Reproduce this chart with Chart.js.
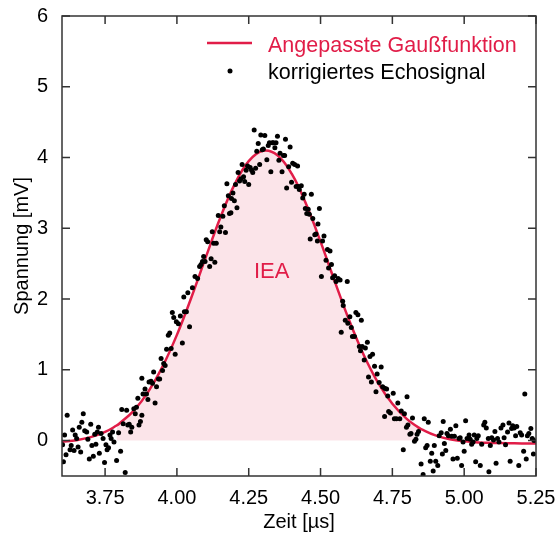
<!DOCTYPE html>
<html lang="de">
<head>
<meta charset="utf-8">
<title>Echosignal</title>
<script src="https://cdn.jsdelivr.net/npm/chart.js@4.4.1/dist/chart.umd.min.js"></script>
<style>
  html, body { margin: 0; padding: 0; background: #fff; }
  #wrap { width: 558px; height: 534px; }
</style>
</head>
<body>
<div id="wrap"><canvas id="echoChart" width="558" height="534"></canvas></div>
<script>
// ── Data ────────────────────────────────────────────────────────────
const xTicks = [3.75, 4.00, 4.25, 4.50, 4.75, 5.00, 5.25];
const yTicks = [0, 1, 2, 3, 4, 5, 6];

// fitted Gaussian, sampled every 0.05 µs (plus the edges of the shaded area)
const fitTime = [3.60, 3.65, 3.70, 3.75, 3.79, 3.80, 3.85, 3.90, 3.95, 4.00, 4.05, 4.10,
  4.15, 4.20, 4.25, 4.30, 4.35, 4.40, 4.45, 4.50, 4.55, 4.60, 4.65, 4.70, 4.75, 4.80,
  4.84, 4.85, 4.90, 4.95, 5.00, 5.05, 5.10, 5.15, 5.20, 5.25];
const fitVoltage = [-0.017, 0.006, 0.049, 0.122, 0.213, 0.242, 0.425, 0.689, 1.046, 1.494, 2.019, 2.585,
  3.138, 3.614, 3.949, 4.096, 4.032, 3.768, 3.341, 2.811, 2.244, 1.696, 1.214, 0.820, 0.520, 0.307,
  0.187, 0.164, 0.074, 0.020, -0.010, -0.026, -0.033, -0.037, -0.039, -0.040];

// integration window shaded under the fit
const areaStart = 3.79;
const areaEnd   = 4.84;
const areaLabel = 'IEA';
const areaLabelPos = [4.33, 2.38];

// corrected echo signal [time µs, voltage mV]
const echoSignal = [
  [3.602,-0.06],[3.605,-0.30],[3.609,0.08],[3.614,-0.20],[3.618,0.36],[3.628,-0.13],[3.632,-0.07],
  [3.637,0.15],[3.642,-0.14],[3.646,0.08],[3.651,0.03],[3.656,-0.09],[3.660,0.19],[3.665,-0.16],
  [3.669,0.26],[3.674,0.38],[3.679,0.14],[3.686,0.12],[3.690,0.02],[3.695,-0.26],[3.700,0.23],
  [3.704,-0.07],[3.709,-0.22],[3.714,0.09],[3.718,-0.05],[3.723,0.12],[3.727,0.19],[3.730,-0.18],
  [3.736,0.10],[3.743,0.03],[3.748,-0.31],[3.753,-0.06],[3.757,-0.13],[3.762,-0.10],[3.767,0.08],
  [3.771,0.03],[3.776,0.12],[3.781,-0.02],[3.790,-0.28],[3.797,0.11],[3.804,-0.15],[3.808,0.44],
  [3.813,0.24],[3.820,-0.45],[3.825,0.43],[3.829,0.22],[3.834,0.23],[3.839,0.12],[3.843,0.19],
  [3.850,0.45],[3.855,0.38],[3.859,0.47],[3.864,0.60],[3.868,0.22],[3.873,0.27],[3.878,0.36],
  [3.878,0.88],[3.882,0.66],[3.889,0.73],[3.894,0.66],[3.899,0.58],[3.903,0.83],[3.910,0.84],
  [3.915,0.81],[3.919,0.97],[3.924,0.53],[3.929,0.76],[3.936,0.87],[3.940,0.87],[3.945,1.16],
  [3.950,0.99],[3.954,1.09],[3.959,1.06],[3.964,1.29],[3.970,1.49],[3.975,1.52],[3.980,1.30],
  [3.984,1.81],[3.989,1.74],[3.994,1.22],[3.998,1.68],[4.005,1.65],[4.012,1.76],[4.019,1.38],
  [4.024,2.03],[4.026,1.82],[4.033,1.82],[4.038,2.09],[4.044,1.61],[4.054,2.16],[4.063,2.32],
  [4.072,2.29],[4.079,2.46],[4.084,2.49],[4.089,2.53],[4.093,2.60],[4.098,2.53],[4.102,2.84],
  [4.107,2.81],[4.114,2.46],[4.119,2.57],[4.123,2.95],[4.128,2.79],[4.132,2.52],[4.137,2.79],
  [4.144,3.18],[4.149,2.95],[4.153,3.02],[4.160,3.17],[4.165,3.32],[4.169,2.94],[4.174,3.63],
  [4.179,3.46],[4.183,3.21],[4.188,3.22],[4.190,3.42],[4.195,3.50],[4.200,3.39],[4.204,3.62],
  [4.209,3.29],[4.213,3.79],[4.218,3.67],[4.223,3.70],[4.227,3.90],[4.232,3.73],[4.236,3.66],
  [4.241,3.82],[4.246,3.88],[4.250,3.62],[4.255,3.86],[4.260,3.82],[4.264,3.79],[4.269,4.39],
  [4.274,3.85],[4.278,4.09],[4.283,4.20],[4.288,3.90],[4.292,4.32],[4.297,4.11],[4.301,4.12],
  [4.306,4.31],[4.313,3.97],[4.318,4.17],[4.322,4.21],[4.327,3.80],[4.332,4.21],[4.336,4.21],
  [4.341,4.14],[4.345,4.21],[4.350,4.30],[4.355,3.96],[4.359,4.06],[4.366,3.80],[4.371,4.03],
  [4.375,4.03],[4.378,4.26],[4.382,3.57],[4.389,3.87],[4.394,4.15],[4.399,3.65],[4.403,3.92],
  [4.410,3.90],[4.415,3.59],[4.420,3.88],[4.422,3.59],[4.426,3.55],[4.433,3.60],[4.438,3.43],
  [4.443,3.48],[4.447,3.28],[4.452,3.21],[4.457,3.27],[4.461,3.20],[4.464,2.85],[4.468,3.48],
  [4.473,3.14],[4.480,2.91],[4.484,2.92],[4.489,2.82],[4.491,3.06],[4.496,3.28],[4.503,2.32],
  [4.507,2.82],[4.512,2.89],[4.519,2.55],[4.524,2.70],[4.528,2.44],[4.533,2.68],[4.538,2.49],
  [4.542,2.30],[4.549,2.33],[4.554,2.25],[4.561,2.29],[4.568,2.27],[4.572,1.53],[4.577,1.97],
  [4.579,1.91],[4.586,1.70],[4.593,2.25],[4.595,1.66],[4.602,1.75],[4.607,1.60],[4.611,1.47],
  [4.618,1.47],[4.623,1.81],[4.630,1.78],[4.635,1.33],[4.639,1.27],[4.642,1.70],[4.645,1.33],
  [4.652,1.14],[4.656,1.31],[4.663,1.39],[4.667,0.90],[4.672,1.19],[4.677,0.83],[4.681,1.22],
  [4.688,1.05],[4.693,0.69],[4.697,0.94],[4.704,0.82],[4.711,1.04],[4.716,0.76],[4.723,0.74],
  [4.723,0.34],[4.730,0.73],[4.734,0.63],[4.737,0.41],[4.743,0.39],[4.753,0.67],[4.757,0.31],
  [4.764,0.31],[4.769,0.53],[4.776,0.31],[4.781,0.42],[4.788,-0.13],[4.792,0.38],[4.799,0.19],
  [4.801,0.62],[4.804,0.22],[4.811,0.09],[4.815,0.10],[4.820,0.32],[4.827,-0.01],[4.832,0.02],
  [4.836,0.09],[4.841,0.13],[4.850,-0.33],[4.857,-0.48],[4.861,0.31],[4.866,-0.10],[4.871,-0.07],
  [4.875,0.26],[4.882,-0.29],[4.887,-0.18],[4.892,-0.43],[4.896,-0.07],[4.901,-0.29],[4.908,-0.35],
  [4.913,0.07],[4.920,0.11],[4.924,-0.19],[4.927,0.27],[4.931,-0.04],[4.936,-0.14],[4.940,0.10],
  [4.945,0.07],[4.952,0.16],[4.957,0.06],[4.961,-0.26],[4.966,0.06],[4.971,0.21],[4.976,-0.25],
  [4.982,0.03],[4.986,0.04],[4.991,-0.35],[4.996,-0.02],[5.000,-0.15],[5.005,0.28],[5.010,0.03],
  [5.017,0.08],[5.021,0.02],[5.026,-0.05],[5.031,-0.02],[5.035,0.08],[5.040,-0.30],[5.044,0.03],
  [5.049,0.07],[5.056,-0.35],[5.061,-0.05],[5.068,0.22],[5.072,0.26],[5.077,0.18],[5.084,0.03],
  [5.086,-0.44],[5.091,-0.07],[5.096,0.04],[5.102,0.01],[5.107,0.13],[5.111,-0.32],[5.116,0.03],
  [5.121,-0.02],[5.128,0.18],[5.135,0.22],[5.139,0.04],[5.144,-0.06],[5.151,0.12],[5.156,0.25],
  [5.160,-0.29],[5.165,0.17],[5.169,0.21],[5.174,0.18],[5.179,0.07],[5.183,0.20],[5.190,-0.35],
  [5.195,0.11],[5.200,0.08],[5.207,-0.15],[5.211,0.66],[5.216,-0.26],[5.220,0.07],[5.225,0.10],
  [5.232,0.17],[5.237,0.03],[5.241,-0.19],[5.243,0.00]
];

const legendLabels = ['Angepasste Gaußfunktion', 'korrigiertes Echosignal'];

// ── Styling ──────────────────────────────────────────────────────────
const FONT = "'Liberation Sans', Arial, Helvetica, sans-serif";
const RED  = '#e11d48';
const PINK = 'rgba(225, 29, 72, 0.12)';

Chart.defaults.font.family = FONT;
Chart.defaults.font.size = 20;
Chart.defaults.color = '#000';

const fitPoints  = fitTime.map((t, i) => ({ x: t, y: fitVoltage[i] }));
const areaPoints = fitPoints.filter(p => p.x >= areaStart && p.x <= areaEnd);
const echoPoints = echoSignal.map(([t, v]) => ({ x: t, y: v }));

// keep the plot box exactly where the layout padding puts it
function noLabelPadding(s) {
  s.paddingTop = 0;
  s.paddingBottom = 0;
  s.paddingLeft = 0;
  s.paddingRight = 0;
}

// ── Frame, inward ticks, legend and area label ───────────────────────
const framePlugin = {
  id: 'frame',
  afterDatasetsDraw(chart) {
    const { ctx, chartArea: a, scales: { x, y } } = chart;
    ctx.save();

    ctx.strokeStyle = '#333';
    ctx.lineWidth = 1.5;
    ctx.strokeRect(a.left, a.top, a.right - a.left, a.bottom - a.top);

    const len = 8;
    ctx.beginPath();
    xTicks.forEach(v => {
      const px = x.getPixelForValue(v);
      ctx.moveTo(px, a.bottom); ctx.lineTo(px, a.bottom - len);
      ctx.moveTo(px, a.top);    ctx.lineTo(px, a.top + len);
    });
    yTicks.forEach(v => {
      const py = y.getPixelForValue(v);
      ctx.moveTo(a.left, py);  ctx.lineTo(a.left + len, py);
      ctx.moveTo(a.right, py); ctx.lineTo(a.right - len, py);
    });
    ctx.stroke();

    // area label
    ctx.fillStyle = RED;
    ctx.font = '22px ' + FONT;
    ctx.textAlign = 'center';
    ctx.textBaseline = 'middle';
    ctx.fillText(areaLabel, x.getPixelForValue(areaLabelPos[0]), y.getPixelForValue(areaLabelPos[1]));

    // legend (top right, inside the plot)
    const textX = a.right - 268;
    ctx.textAlign = 'left';
    ctx.textBaseline = 'alphabetic';
    ctx.font = '21.5px ' + FONT;

    ctx.strokeStyle = RED;
    ctx.lineWidth = 2.5;
    ctx.beginPath();
    ctx.moveTo(a.right - 329, a.top + 27);
    ctx.lineTo(a.right - 284, a.top + 27);
    ctx.stroke();
    ctx.fillStyle = RED;
    ctx.fillText(legendLabels[0], textX, a.top + 36);

    ctx.fillStyle = '#000';
    ctx.beginPath();
    ctx.arc(a.right - 306, a.top + 55, 2.5, 0, Math.PI * 2);
    ctx.fill();
    ctx.fillText(legendLabels[1], textX, a.top + 63);

    ctx.restore();
  },
};

// ── Chart ────────────────────────────────────────────────────────────
new Chart(document.getElementById('echoChart'), {
  type: 'scatter',
  data: {
    datasets: [
      {
        label: legendLabels[1],
        data: echoPoints,
        backgroundColor: '#000',
        borderWidth: 0,
        pointRadius: 2.5,
        order: 0,
      },
      {
        label: legendLabels[0],
        data: fitPoints,
        showLine: true,
        borderColor: RED,
        borderWidth: 2.5,
        pointRadius: 0,
        tension: 0.4,
        fill: false,
        order: 1,
      },
      {
        label: areaLabel,
        data: areaPoints,
        showLine: true,
        borderWidth: 0,
        borderColor: 'rgba(0,0,0,0)',
        backgroundColor: PINK,
        pointRadius: 0,
        tension: 0.4,
        fill: { value: 0 },
        order: 2,
      },
    ],
  },
  options: {
    responsive: false,
    animation: false,
    layout: { padding: { top: 16, right: 22, left: 0, bottom: 0 } },
    plugins: {
      legend: { display: false },
      tooltip: { enabled: false },
    },
    scales: {
      x: {
        type: 'linear',
        min: 3.6,
        max: 5.25,
        grid: { display: false, drawTicks: false },
        border: { display: false },
        afterBuildTicks: s => { s.ticks = xTicks.map(v => ({ value: v })); },
        afterFit: s => { s.height = 58; noLabelPadding(s); },
        ticks: {
          padding: 10,
          maxRotation: 0,
          autoSkip: false,
          callback: v => v.toFixed(2),
        },
        title: { display: true, text: 'Zeit [µs]', padding: { top: 0, bottom: 0 }, font: { size: 20 } },
      },
      y: {
        type: 'linear',
        min: -0.5,
        max: 6,
        grid: { display: false, drawTicks: false },
        border: { display: false },
        afterBuildTicks: s => { s.ticks = yTicks.map(v => ({ value: v })); },
        afterFit: s => { s.width = 62; noLabelPadding(s); },
        ticks: { padding: 14, autoSkip: false },
        title: { display: true, text: 'Spannung [mV]', padding: { top: 10, bottom: 0 }, font: { size: 20 } },
      },
    },
  },
  plugins: [framePlugin],
});
</script>
</body>
</html>
